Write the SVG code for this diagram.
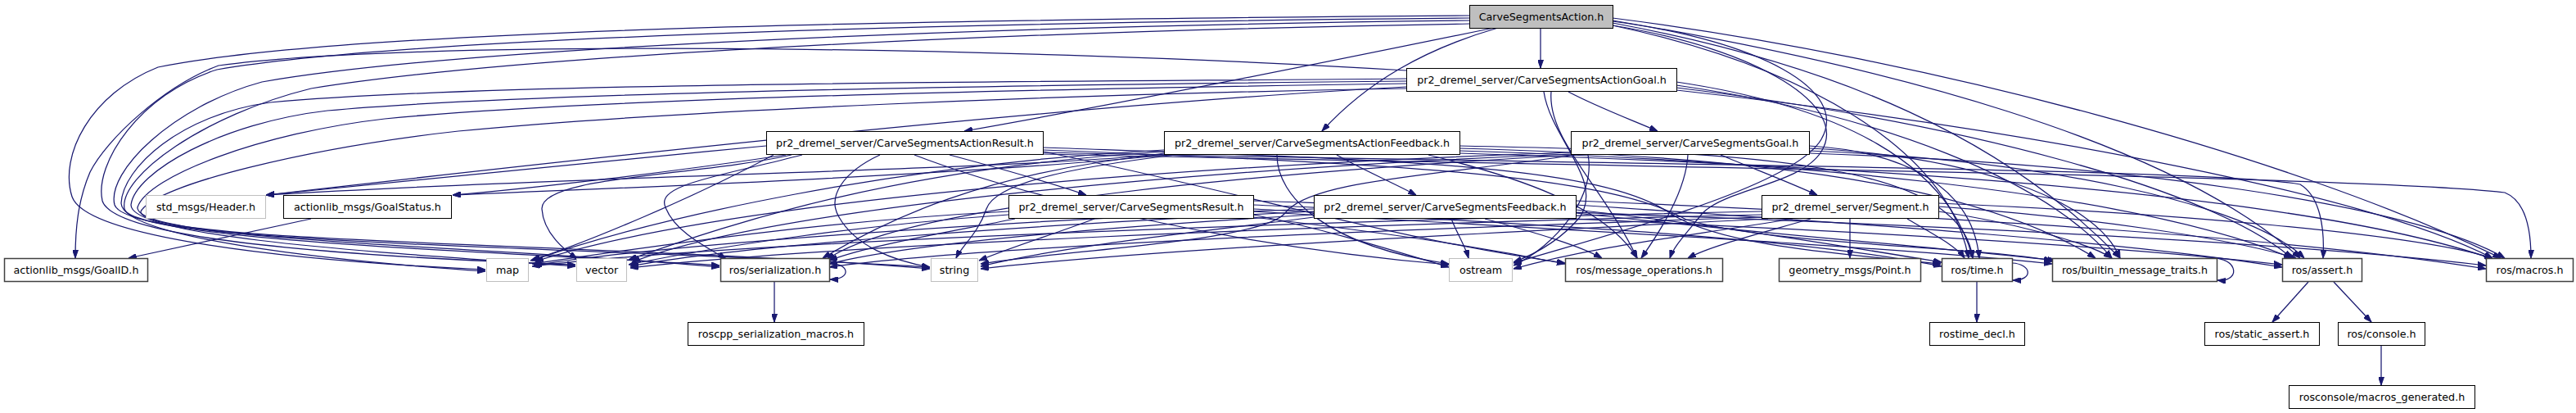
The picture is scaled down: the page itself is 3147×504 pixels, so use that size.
<svg xmlns="http://www.w3.org/2000/svg" width="3147" height="504" viewBox="0 0 3147 504">
<style>
.n rect{fill:#ffffff;stroke:#000000;stroke-width:1}
.n.u rect{stroke:#bfbfbf}
.n.d rect{stroke:#404040;stroke-width:1.5}
.n.root rect{fill:#bfbfbf}
.n text{font-family:"DejaVu Sans","Liberation Sans",sans-serif;font-size:12.7px;text-anchor:middle;fill:#000000}
#edges path{fill:none;stroke:#191970;stroke-width:1.25;marker-end:url(#ah)}
</style>
<defs>
<marker id="ah" markerWidth="10" markerHeight="7" refX="10" refY="3.5" orient="auto" markerUnits="userSpaceOnUse"><path d="M0,0 L10,3.5 L0,7 z" fill="#191970" stroke="#191970" stroke-width="1"/></marker>
</defs>
<rect x="0" y="0" width="3147" height="504" fill="#ffffff"/>
<g id="edges">
<!-- A -->
<path d="M1882,34 L1882,83"/>
<path d="M1825,34 C1600,80 1350,130 1178,160"/>
<path d="M1830,34 C1740,60 1670,100 1615,160"/>
<path d="M1795,19 C1100,24 420,36 193,82 C110,115 72,190 88,240 C105,290 350,318 593,329"/>
<path d="M1795,22 C1100,28 480,48 265,85 C170,115 115,200 125,245 C140,295 450,314 703,323"/>
<path d="M1795,25 C1200,32 560,58 320,100 C210,130 130,210 140,250 C155,295 600,306 879,324"/>
<path d="M1795,29 C1250,38 640,66 380,108 C250,140 145,215 152,255 C165,298 700,300 1136,326"/>
<path d="M1970,26 C2150,50 2260,110 2225,170 C2190,230 1950,290 1849,321"/>
<path d="M1970,31 C2150,60 2260,130 2225,185 C2200,225 2110,230 2080,260 C2060,285 2045,300 2040,315"/>
<path d="M1970,31 C2200,80 2380,180 2405,315"/>
<path d="M1970,28 C2250,80 2450,170 2590,315"/>
<path d="M1970,25 C2300,80 2650,170 2810,315"/>
<path d="M1970,22 C2350,70 2800,190 3055,315"/>
<!-- AG -->
<path d="M1718,86 C1200,55 500,48 267,80 C200,105 130,170 110,210 C95,245 92,280 92,315"/>
<path d="M1718,106 C1300,128 700,195 325,238"/>
<path d="M1916,112 C1950,130 1990,145 2025,160"/>
<path d="M1718,96 C1300,100 600,100 330,125 C220,140 150,205 148,248 C150,290 400,318 593,331"/>
<path d="M1718,99 C1300,103 650,112 400,135 C270,150 165,210 160,250 C160,292 500,310 703,325"/>
<path d="M1718,102 C1300,108 720,120 470,145 C320,162 180,215 168,253 C165,295 600,300 879,326"/>
<path d="M1718,108 C1300,115 820,135 560,160 C380,180 190,225 172,258 C170,298 750,296 1136,328"/>
<path d="M1886,112 C1895,170 1960,220 1930,265 C1905,295 1870,312 1849,320"/>
<path d="M1895,112 C1890,170 1960,230 2000,315"/>
<path d="M2048,100 C2250,130 2380,200 2410,315"/>
<path d="M2048,104 C2300,140 2500,220 2580,315"/>
<path d="M2048,107 C2400,150 2700,230 2800,315"/>
<path d="M2048,110 C2500,160 2900,240 3045,315"/>
<!-- AR -->
<path d="M936,178 C700,200 450,226 325,238"/>
<path d="M960,189 C820,210 650,230 553,238"/>
<path d="M1160,189 C1220,205 1280,222 1327,238"/>
<path d="M945,189 C850,240 720,295 648,318"/>
<path d="M967,189 C850,215 660,215 662,255 C664,285 690,305 705,316"/>
<path d="M980,189 C880,215 800,225 813,253 C825,285 870,305 887,316"/>
<path d="M1075,189 C1030,210 1010,240 1025,265 C1045,300 1090,318 1136,326"/>
<path d="M1117,189 C1250,240 1500,300 1770,323"/>
<path d="M1274,185 C1500,230 1700,292 1912,321"/>
<path d="M1274,180 C1700,195 1950,200 2040,260 C2100,300 2250,310 2371,322"/>
<path d="M1274,183 C1700,200 1960,212 2060,268 C2160,298 2400,300 2507,318"/>
<path d="M1274,186 C1900,200 2700,205 2810,225 C2835,240 2840,280 2838,315"/>
<path d="M1274,188 C2000,204 2900,215 3060,235 C3085,245 3092,280 3092,315"/>
<!-- AF -->
<path d="M1422,187 C1300,205 700,215 325,238"/>
<path d="M1426,189 C1200,212 800,228 553,238"/>
<path d="M1633,189 C1660,205 1700,222 1730,238"/>
<path d="M1422,183 C1100,200 800,265 650,318"/>
<path d="M1422,185 C1100,205 900,270 768,317"/>
<path d="M1422,188 C1200,210 1080,270 1005,315"/>
<path d="M1437,189 C1300,205 1215,225 1205,255 C1195,285 1175,300 1168,315"/>
<path d="M1560,189 C1560,240 1620,300 1770,322"/>
<path d="M1745,189 C1850,215 1960,250 2000,315"/>
<path d="M1783,178 C2150,185 2395,200 2410,315"/>
<path d="M1783,181 C2100,190 2400,215 2560,315"/>
<path d="M1783,184 C2150,195 2600,230 2800,315"/>
<path d="M1783,187 C2200,200 2800,230 3045,316"/>
<!-- G -->
<path d="M2102,189 C2140,205 2185,222 2220,238"/>
<path d="M1919,186 C1500,200 900,240 654,319"/>
<path d="M1919,188 C1500,205 950,250 772,320"/>
<path d="M1925,189 C1550,210 1100,250 1010,317"/>
<path d="M1925,189 C1750,215 1600,220 1570,260 C1540,295 1300,305 1198,322"/>
<path d="M1940,189 C1950,240 1900,300 1849,324"/>
<path d="M2062,189 C2060,230 2030,280 2005,315"/>
<path d="M2210,178 C2330,185 2410,230 2418,315"/>
<path d="M2210,181 C2400,190 2560,240 2590,315"/>
<path d="M2210,184 C2500,195 2750,250 2815,315"/>
<path d="M2210,187 C2600,200 2950,250 3060,315"/>
<!-- R -->
<path d="M1232,258 C1000,270 800,300 650,322"/>
<path d="M1232,262 C1050,275 880,300 768,323"/>
<path d="M1240,267 C1150,285 1060,300 1013,318"/>
<path d="M1337,267 C1290,285 1240,300 1196,318"/>
<path d="M1531,262 C1620,280 1700,305 1770,326"/>
<path d="M1531,265 C1700,285 1800,300 1912,322"/>
<path d="M1531,255 C1900,275 2200,290 2372,325"/>
<path d="M1531,258 C1900,280 2300,300 2507,322"/>
<path d="M1531,250 C2000,270 2500,290 2788,323"/>
<path d="M1531,245 C2100,265 2700,285 3037,324"/>
<!-- F -->
<path d="M1605,255 C1200,270 800,300 652,324"/>
<path d="M1605,258 C1250,275 900,300 770,325"/>
<path d="M1605,262 C1300,280 1100,300 1013,322"/>
<path d="M1605,265 C1450,285 1300,300 1198,325"/>
<path d="M1773,267 C1780,285 1790,300 1794,315"/>
<path d="M1814,267 C1880,285 1930,300 1957,315"/>
<path d="M1925,256 C2100,275 2250,300 2372,320"/>
<path d="M1925,260 C2150,285 2350,300 2512,318"/>
<path d="M1925,250 C2300,275 2600,295 2788,326"/>
<path d="M1925,245 C2400,265 2800,290 3037,328"/>
<!-- SEG -->
<path d="M2260,267 L2260,315"/>
<path d="M2152,258 C1600,270 900,295 650,325"/>
<path d="M2152,262 C1600,275 1000,300 770,327"/>
<path d="M2152,265 C1700,280 1200,300 1013,326"/>
<path d="M2160,267 C1800,285 1400,305 1198,328"/>
<path d="M2190,267 C2050,290 1950,300 1849,328"/>
<path d="M2212,267 C2150,285 2090,300 2062,315"/>
<path d="M2330,267 C2360,285 2390,300 2400,315"/>
<path d="M2368,258 C2450,270 2550,295 2580,315"/>
<path d="M2368,252 C2550,265 2720,290 2805,315"/>
<path d="M2368,248 C2650,260 2950,285 3045,315"/>
<!-- others -->
<path d="M380,267 L157,315"/>
<path d="M946,344 L946,393"/>
<path d="M1013,322 C1037,320 1042,341 1014,341"/>
<path d="M2415,344 L2415,393"/>
<path d="M2458,321 C2482,322 2485,342 2459,342"/>
<path d="M2690,316 C2735,308 2740,345 2709,342"/>
<path d="M2820,344 L2776,393"/>
<path d="M2851,344 L2897,393"/>
<path d="M2909,421 L2909,470"/>
</g>
<g id="node-action" class="n root"><rect x="1795.5" y="6.5" width="175" height="28"/><text x="1883" y="25">CarveSegmentsAction.h</text></g>
<g id="node-actiongoal" class="n"><rect x="1718.5" y="83.5" width="330" height="28"/><text x="1883.5" y="102">pr2_dremel_server/CarveSegmentsActionGoal.h</text></g>
<g id="node-actionresult" class="n"><rect x="936.5" y="160.5" width="338" height="28"/><text x="1105.5" y="179">pr2_dremel_server/CarveSegmentsActionResult.h</text></g>
<g id="node-actionfeedback" class="n"><rect x="1422.5" y="160.5" width="361" height="28"/><text x="1603" y="179">pr2_dremel_server/CarveSegmentsActionFeedback.h</text></g>
<g id="node-goal" class="n"><rect x="1919.5" y="160.5" width="291" height="28"/><text x="2065" y="179">pr2_dremel_server/CarveSegmentsGoal.h</text></g>
<g id="node-header" class="n u"><rect x="178.5" y="238.5" width="146" height="28"/><text x="251.5" y="257">std_msgs/Header.h</text></g>
<g id="node-goalstatus" class="n"><rect x="346.5" y="238.5" width="205" height="28"/><text x="449" y="257">actionlib_msgs/GoalStatus.h</text></g>
<g id="node-result" class="n"><rect x="1232.5" y="238.5" width="299" height="28"/><text x="1382" y="257">pr2_dremel_server/CarveSegmentsResult.h</text></g>
<g id="node-feedback" class="n"><rect x="1605.5" y="238.5" width="320" height="28"/><text x="1765.5" y="257">pr2_dremel_server/CarveSegmentsFeedback.h</text></g>
<g id="node-segment" class="n"><rect x="2152.5" y="238.5" width="216" height="28"/><text x="2260.5" y="257">pr2_dremel_server/Segment.h</text></g>
<g id="node-goalid" class="n d"><rect x="5.5" y="315.5" width="175" height="28"/><text x="93" y="334">actionlib_msgs/GoalID.h</text></g>
<g id="node-map" class="n u"><rect x="594.5" y="315.5" width="51" height="28"/><text x="620" y="334">map</text></g>
<g id="node-vector" class="n u"><rect x="704.5" y="315.5" width="61" height="28"/><text x="735" y="334">vector</text></g>
<g id="node-serialization" class="n d"><rect x="880.5" y="315.5" width="133" height="28"/><text x="947" y="334">ros/serialization.h</text></g>
<g id="node-string" class="n u"><rect x="1137.5" y="315.5" width="57" height="28"/><text x="1166" y="334">string</text></g>
<g id="node-ostream" class="n u"><rect x="1770.5" y="315.5" width="77" height="28"/><text x="1809" y="334">ostream</text></g>
<g id="node-msgops" class="n d"><rect x="1912.5" y="315.5" width="192" height="28"/><text x="2008.5" y="334">ros/message_operations.h</text></g>
<g id="node-point" class="n d"><rect x="2173.5" y="315.5" width="173" height="28"/><text x="2260" y="334">geometry_msgs/Point.h</text></g>
<g id="node-time" class="n d"><rect x="2372.5" y="315.5" width="86" height="28"/><text x="2415.5" y="334">ros/time.h</text></g>
<g id="node-builtin" class="n d"><rect x="2507.5" y="315.5" width="201" height="28"/><text x="2608" y="334">ros/builtin_message_traits.h</text></g>
<g id="node-assert" class="n d"><rect x="2788.5" y="315.5" width="97" height="28"/><text x="2837" y="334">ros/assert.h</text></g>
<g id="node-macros" class="n d"><rect x="3037.5" y="315.5" width="106" height="28"/><text x="3090.5" y="334">ros/macros.h</text></g>
<g id="node-sermacros" class="n"><rect x="840.5" y="393.5" width="215" height="28"/><text x="948" y="412">roscpp_serialization_macros.h</text></g>
<g id="node-rostimedecl" class="n"><rect x="2357.5" y="393.5" width="116" height="28"/><text x="2415.5" y="412">rostime_decl.h</text></g>
<g id="node-staticassert" class="n"><rect x="2693.5" y="393.5" width="140" height="28"/><text x="2763.5" y="412">ros/static_assert.h</text></g>
<g id="node-console" class="n"><rect x="2856.5" y="393.5" width="106" height="28"/><text x="2909.5" y="412">ros/console.h</text></g>
<g id="node-macrosgen" class="n"><rect x="2796.5" y="470.5" width="227" height="28"/><text x="2910" y="489">rosconsole/macros_generated.h</text></g>
</svg>
